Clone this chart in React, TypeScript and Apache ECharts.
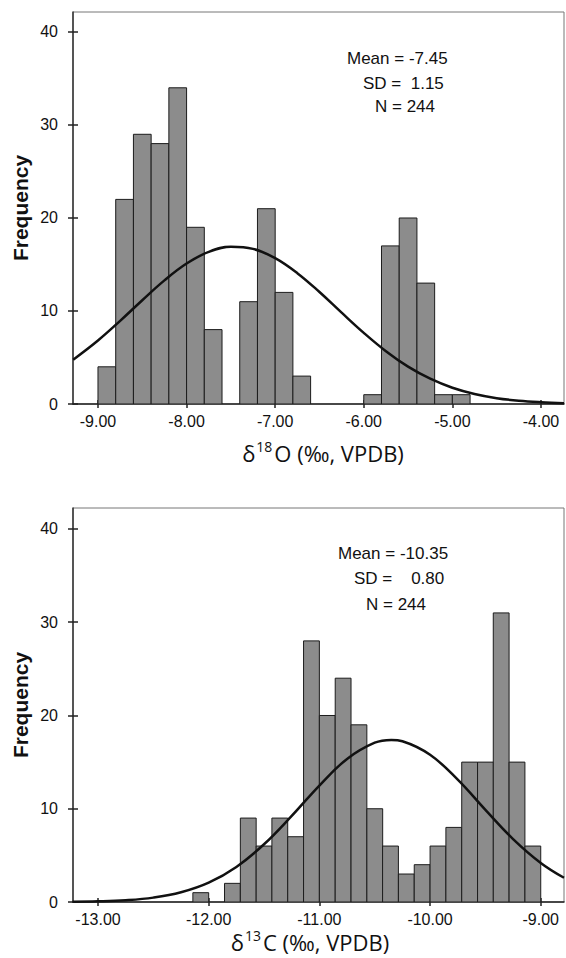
import { useEffect, useRef } from 'react';
import * as echarts from 'echarts';

// δ18O histogram (bin width 0.2)
const o18BinStarts = [-9.0, -8.8, -8.6, -8.4, -8.2, -8.0, -7.8, -7.4, -7.2, -7.0, -6.8, -6.0, -5.8, -5.6, -5.4, -5.2, -5.0];
const o18Counts = [4, 22, 29, 28, 34, 19, 8, 11, 21, 12, 3, 1, 17, 20, 13, 1, 1];
const o18BinWidth = 0.2;
const o18CurveX = [-9.28, -9.0, -8.75, -8.5, -8.25, -8.0, -7.75, -7.5, -7.25, -7.0, -6.75, -6.5, -6.25, -6.0, -5.75, -5.5, -5.25, -5.0, -4.75, -4.5, -4.25, -4.0, -3.74];
const o18CurveY = [4.77, 6.83, 8.94, 11.16, 13.29, 15.1, 16.36, 16.91, 16.68, 15.68, 14.07, 12.04, 9.82, 7.65, 5.68, 4.02, 2.72, 1.75, 1.08, 0.63, 0.35, 0.19, 0.09];
const o18Ticks = [-9, -8, -7, -6, -5, -4];
const o18Stats = ['Mean = -7.45', 'SD =  1.15', 'N = 244'];

// δ13C histogram (bin width 1/7)
const c13BinStarts = [-12.143, -12.0, -11.857, -11.714, -11.571, -11.429, -11.286, -11.143, -11.0, -10.857, -10.714, -10.571, -10.429, -10.286, -10.143, -10.0, -9.857, -9.714, -9.571, -9.429, -9.286, -9.143];
const c13Counts = [1, 0, 2, 9, 6, 9, 7, 28, 20, 24, 19, 10, 6, 3, 4, 6, 8, 15, 15, 31, 15, 6];
const c13BinWidth = 0.142857;
const c13CurveX = [-13.23, -13.0, -12.75, -12.5, -12.25, -12.0, -11.75, -11.5, -11.25, -11.0, -10.75, -10.5, -10.35, -10.25, -10.0, -9.75, -9.5, -9.25, -9.0, -8.79];
const c13CurveY = [0.03, 0.07, 0.19, 0.47, 1.04, 2.07, 3.76, 6.19, 9.23, 12.49, 15.34, 17.08, 17.38, 17.24, 15.79, 13.12, 9.88, 6.75, 4.19, 2.6];
const c13Ticks = [-13, -12, -11, -10, -9];
const c13Stats = ['Mean = -10.35', 'SD =    0.80', 'N = 244'];

const yTicks = [0, 10, 20, 30, 40];

const FONT = 'Liberation Sans, Arial, sans-serif';

export default function App() {
  const ref = useRef<HTMLDivElement>(null);

  useEffect(() => {
    if (!ref.current) return;
    const chart = echarts.init(ref.current, null, { renderer: 'svg' });

    const xAxes = (gridIndex: number, min: number, max: number, ticks: number[]) => [
      {
        gridIndex, type: 'value', min, max, position: 'bottom',
        axisLine: { show: true, onZero: false, lineStyle: { color: '#222', width: 1.5 } },
        axisTick: { show: true, customValues: ticks, length: 4, lineStyle: { color: '#222', width: 1.5 } },
        axisLabel: { show: true, customValues: ticks, formatter: (v: number) => v.toFixed(2), fontSize: 16, color: '#111', fontFamily: FONT, margin: 9 },
        splitLine: { show: false },
      },
      {
        gridIndex, type: 'value', min, max, position: 'bottom',
        axisLine: { show: false },
        axisTick: { show: true, inside: true, customValues: ticks, length: 4, lineStyle: { color: '#222', width: 1.5 } },
        axisLabel: { show: false },
        splitLine: { show: false },
      },
    ];
    const yAxes = (gridIndex: number, max: number) => [
      {
        gridIndex, type: 'value', min: 0, max, position: 'left',
        axisLine: { show: true, onZero: false, lineStyle: { color: '#333', width: 1.5 } },
        axisTick: { show: true, customValues: yTicks, length: 5, lineStyle: { color: '#222', width: 1.5 } },
        axisLabel: { show: true, customValues: yTicks, fontSize: 16, color: '#111', fontFamily: FONT, margin: 15 },
        splitLine: { show: false },
      },
      {
        gridIndex, type: 'value', min: 0, max, position: 'left',
        axisLine: { show: false },
        axisTick: { show: true, inside: true, customValues: yTicks, length: 5, lineStyle: { color: '#222', width: 1.5 } },
        axisLabel: { show: false },
        splitLine: { show: false },
      },
    ];

    const renderBin = (_params: any, api: any) => {
      const x0 = api.value(0);
      const x1 = api.value(1);
      const c = api.value(2);
      if (!c) return null;
      const p0 = api.coord([x0, c]);
      const p1 = api.coord([x1, 0]);
      return {
        type: 'rect',
        shape: { x: p0[0], y: p0[1], width: p1[0] - p0[0], height: p1[1] - p0[1] },
        style: { fill: '#8c8c8c', stroke: '#1c1c1c', lineWidth: 1 },
      };
    };

    const o18Bins = o18BinStarts.map((s, i) => [s, s + o18BinWidth, o18Counts[i]]);
    const c13Bins = c13BinStarts.map((s, i) => [s, s + c13BinWidth, c13Counts[i]]);

    const statText = (lines: string[], xs: number[], ys: number[]) =>
      lines.map((t, i) => ({
        type: 'text', x: xs[i], y: ys[i],
        style: { text: t, fontSize: 17, fontFamily: FONT, fill: '#111', align: 'left', verticalAlign: 'middle' },
      }));

    const xTitle = (sup: string, el: string, x: number, y: number) => ({
      type: 'text', x, y,
      style: {
        text: `{a|δ}{s|${sup}}{a|${el} (‰, VPDB)}`,
        align: 'center', verticalAlign: 'middle',
        rich: {
          a: { fontSize: 22, fontFamily: 'Open Sans, sans-serif', fill: '#111', lineHeight: 28 },
          s: { fontSize: 14, fontFamily: 'Open Sans, sans-serif', fill: '#111', verticalAlign: 'top', lineHeight: 28, padding: [0, 2, 8, 1] },
        },
      },
    });

    const yTitle = (y: number) => ({
      type: 'text', x: 20, y, rotation: Math.PI / 2,
      style: { text: 'Frequency', fontSize: 21, fontWeight: 'bold', fontFamily: FONT, fill: '#111', align: 'center', verticalAlign: 'middle' },
    });

    chart.setOption({
      animation: false,
      backgroundColor: '#fff',
      grid: [
        { left: 73, top: 12, right: 2, height: 392, show: true, borderColor: '#777', borderWidth: 1 },
        { left: 73, top: 508, right: 2, height: 394, show: true, borderColor: '#777', borderWidth: 1 },
      ],
      xAxis: [...xAxes(0, -9.282, -3.74, o18Ticks), ...xAxes(1, -13.226, -8.79, c13Ticks)],
      yAxis: [...yAxes(0, 42.15), ...yAxes(1, 42.25)],
      series: [
        { type: 'custom', xAxisIndex: 0, yAxisIndex: 0, renderItem: renderBin, data: o18Bins, encode: { x: [0, 1], y: 2 }, clip: true },
        {
          type: 'line', xAxisIndex: 0, yAxisIndex: 0, smooth: 0.4, symbol: 'none',
          lineStyle: { color: '#111', width: 2.5 }, data: o18CurveX.map((x, i) => [x, o18CurveY[i]]), clip: true, z: 5,
        },
        { type: 'custom', xAxisIndex: 2, yAxisIndex: 2, renderItem: renderBin, data: c13Bins, encode: { x: [0, 1], y: 2 }, clip: true },
        {
          type: 'line', xAxisIndex: 2, yAxisIndex: 2, smooth: 0.4, symbol: 'none',
          lineStyle: { color: '#111', width: 2.5 }, data: c13CurveX.map((x, i) => [x, c13CurveY[i]]), clip: true, z: 5,
        },
      ],
      graphic: [
        ...statText(o18Stats, [347, 363, 375], [58, 83, 106]),
        ...statText(c13Stats, [338, 354, 366], [553, 578, 604]),
        xTitle('18', 'O', 323, 453),
        xTitle('13', 'C', 310, 942),
        yTitle(208),
        yTitle(705),
      ],
    });

    return () => chart.dispose();
  }, []);

  return <div ref={ref} style={{ position: 'absolute', left: 0, top: 0, width: 566, height: 958 }} />;
}
